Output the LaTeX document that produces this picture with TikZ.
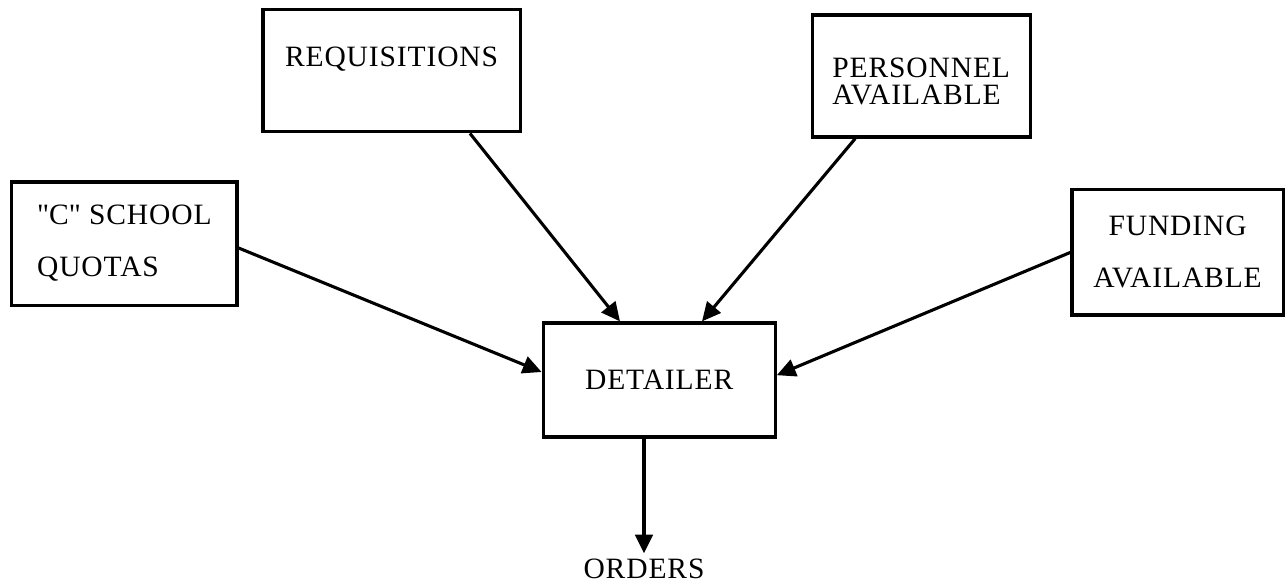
\documentclass[tikz,border=0pt]{standalone}
\usepackage{fontspec}
\setmainfont{Liberation Serif}[LetterSpace=3]
\usetikzlibrary{calc,arrows.meta}
\newcommand{\liftup}[2]{\raisebox{#1}[\height][\depth]{#2}}

\begin{document}
\begin{tikzpicture}[
  box/.style={draw, black, line width=2.3pt, inner sep=0pt, font=\fontsize{21}{25}\selectfont},
  feed/.style={black, line width=2.2pt, -{Triangle[length=0.47cm, width=0.44cm]}}]
  \useasboundingbox (0,0) rectangle (32.2,14.65);
  \node[box, minimum width=5.63cm, minimum height=3.08cm, align=left] (quotas) at (3.11,8.56) {\textquotedbl C\textquotedbl{} SCHOOL\\[12pt]QUOTAS};
  \node[box, minimum width=6.43cm, minimum height=3.05cm] (req) at (9.79,12.88) {\liftup{0.3cm}{REQUISITIONS}};
  \node[box, minimum width=5.45cm, minimum height=3.05cm] (pers) at (23.03,12.75) {\liftup{-0.2cm}{\begin{tabular}{@{}l@{}}PERSONNEL\\[-6pt]AVAILABLE\end{tabular}}};
  \node[box, minimum width=5.28cm, minimum height=3.13cm, align=center] (fund) at (29.44,8.34) {FUNDING\\[12pt]AVAILABLE};
  \node[box, minimum width=5.8cm, minimum height=2.85cm] (det) at (16.48,5.15) {DETAILER};
  \node[font=\fontsize{21}{25}\selectfont, inner xsep=0pt, inner ysep=0.13cm] (orders) at (16.1,0.43) {ORDERS};
  \draw[feed] ([yshift=-0.11cm]quotas.east) -- ([yshift=0.2cm]det.west);
  \draw[feed] ([xshift=1.96cm]req.south) -- ([xshift=-0.98cm]det.north);
  \draw[feed] ([xshift=-1.65cm]pers.south) -- ([xshift=1.07cm]det.north);
  \draw[feed] (fund.west) -- ([yshift=0.12cm]det.east);
  \draw[feed] (det.south -| orders) -- (orders);
\end{tikzpicture}
\end{document}
